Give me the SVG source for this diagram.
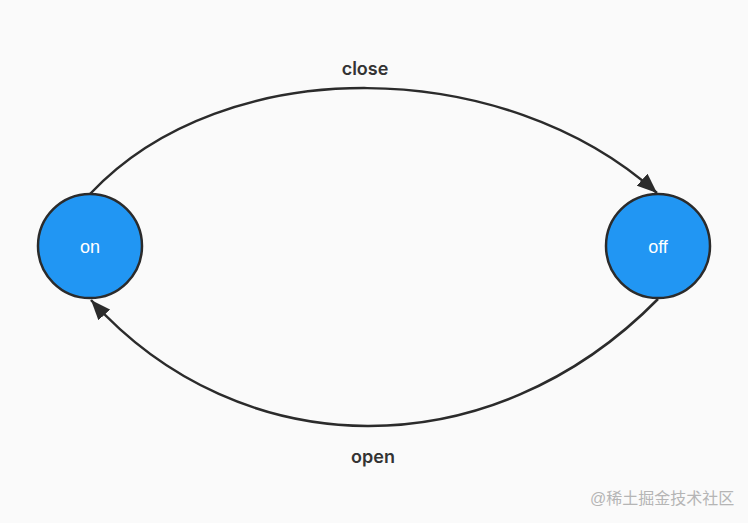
<svg xmlns="http://www.w3.org/2000/svg" width="748" height="523" viewBox="0 0 748 523">
<style>
.node{fill:#2196F3;stroke:#2b2b2b;stroke-width:2.5}
.nlabel{font-family:"Liberation Sans",Arial,sans-serif;font-size:18px;fill:#ffffff;text-anchor:middle}
.edge{fill:none;stroke:#2b2b2b;stroke-width:2.5}
.elabel{font-family:Inter,"Liberation Sans",Arial,sans-serif;font-size:18px;font-weight:600;fill:#333333;text-anchor:middle}
.wm{font-family:"Liberation Sans","Noto Sans CJK SC",sans-serif;font-size:16px;fill:#b5b5b5}
</style>
<defs>
<marker id="arrow" markerUnits="userSpaceOnUse" markerWidth="22" markerHeight="16" refX="20" refY="8" orient="auto">
<path d="M0,0 L20,8 L0,16 Z" fill="#2b2b2b"/>
</marker>
</defs>
<rect width="748" height="523" fill="#fafafa"/>
<g id="connectors">
<path class="edge" d="M90,194 C225,50 505,56 657,193" marker-end="url(#arrow)"/>
<path class="edge" d="M658,299 C490,470 240,466 91,300" marker-end="url(#arrow)"/>
<text class="elabel" x="365" y="75">close</text>
<text class="elabel" x="373" y="463">open</text>
</g>
<g id="node-on">
<circle class="node" cx="90" cy="246" r="52"/>
<text class="nlabel" x="90" y="253">on</text>
</g>
<g id="node-off">
<circle class="node" cx="658" cy="246" r="52"/>
<text class="nlabel" x="658" y="253">off</text>
</g>
<text class="wm" x="590" y="504">@稀土掘金技术社区</text>
</svg>
